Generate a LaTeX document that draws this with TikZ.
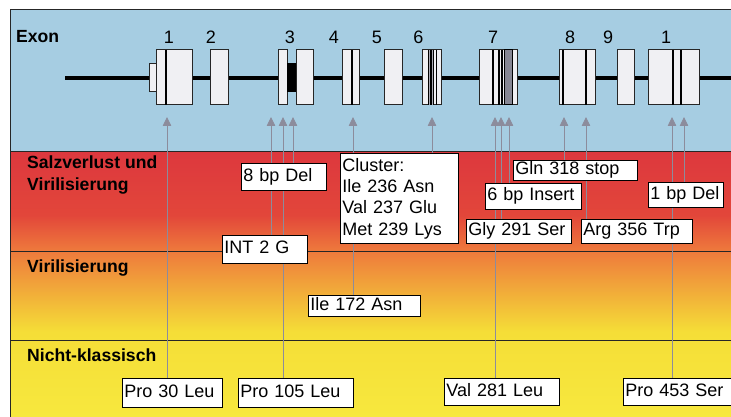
\documentclass[tikz,border=0pt]{standalone}
\usepackage{fontspec}
\setmainfont{Liberation Sans}
\usetikzlibrary{arrows.meta}
\definecolor{bgblue}{RGB}{166,205,226}
\definecolor{exfill}{RGB}{240,240,243}
\definecolor{exgrey}{RGB}{135,135,148}
\definecolor{arrgrey}{RGB}{140,140,156}
\definecolor{rA}{RGB}{221,56,62}
\definecolor{rB}{RGB}{226,70,58}
\definecolor{rC}{RGB}{238,122,60}
\definecolor{yA}{RGB}{245,222,55}
\definecolor{yB}{RGB}{247,232,62}
\pgfdeclarelayer{bg}
\pgfdeclarelayer{lines}
\pgfsetlayers{bg,lines,main}
\tikzset{
  frameline/.style={draw=black!85, line width=1pt},
  exbox/.style={draw=black!85, line width=1pt, fill=exfill},
  exline/.style={draw=black, line width=1.3pt},
  exnum/.style={font=\fontsize{18}{21}\selectfont, inner sep=0pt},
  cat/.style={font=\fontsize{17.6}{22}\selectfont\bfseries, anchor=base west, inner sep=0pt, align=left},
  lbl/.style={draw=black, line width=0.9pt, fill=white, anchor=north west,
    inner xsep=2pt, inner ysep=0pt, text height=13pt, text depth=4pt,
    align=left, font=\fontsize{18}{21}\selectfont},
  conn/.style={draw=arrgrey, line width=0.8pt, -{Triangle[length=9pt,width=8.5pt]}},
}
\begin{document}
\begin{tikzpicture}[x=1pt,y=-1pt]
\useasboundingbox (0,0) rectangle (731,417);
\clip (0,0) rectangle (731,417);
\begin{pgfonlayer}{bg}
\fill[white] (0,0) rectangle (731,417);
\fill[bgblue] (10,10) rectangle (731,152);
\shade[top color=rA, bottom color=rB] (10,152) rectangle (731,215);
\shade[top color=rB, bottom color=rC] (10,215) rectangle (731,251);
\shade[top color=rC, bottom color=yA] (10,251) rectangle (731,332);
\shade[top color=yA, bottom color=yB] (10,332) rectangle (731,417);
\draw[frameline] (10,417) -- (10,10) -- (731,10);
\draw[frameline] (10,152) -- (731,152);
\draw[frameline] (10,251) -- (731,251);
\draw[frameline] (10,340) -- (731,340);
% gene line
\draw[line width=3.5pt] (65,78) -- (731,78);
% exon 1
\draw[exbox] (149,64) rectangle (156,92);
\draw[exbox] (156,50) rectangle (192,105);
\draw[exline] (166,50) -- (166,105);
% exon 2
\draw[exbox] (210,50) rectangle (228,105);
% exon 3
\draw[exbox] (278,50) rectangle (287,105);
\fill[black] (287,63) rectangle (296,92);
\draw[exbox] (296,50) rectangle (313,105);
% exon 4
\draw[exbox] (342,50) rectangle (359,105);
\draw[exline] (352,50) -- (352,105);
% exon 5
\draw[exbox] (384,50) rectangle (402,105);
% exon 6
\draw[exbox] (422,50) rectangle (441,105);
\fill[exgrey!70] (429,50) rectangle (434,105);
\draw[exline, line width=1pt] (428,50) -- (428,105);
\draw[exline, line width=2.5pt] (431,50) -- (431,105);
\draw[exline, line width=1.2pt] (433.5,50) -- (433.5,105);
\draw[exline, line width=1pt] (436,50) -- (436,105);
% exon 7
\draw[exbox] (479,50) rectangle (517,105);
\draw[exline] (493,50) -- (493,105);
\draw[exline] (499,50) -- (499,105);
\draw[exline] (502,50) -- (502,105);
\filldraw[fill=exgrey, draw=black, line width=1pt] (504,50) rectangle (512,105);
% exon 8
\draw[exbox] (559,50) rectangle (595,105);
\draw[exline] (563,50) -- (563,105);
\draw[exline] (586,50) -- (586,105);
% exon 9
\draw[exbox] (617,50) rectangle (634,105);
% exon 10
\draw[exbox] (648,50) rectangle (699,105);
\draw[exline] (673,50) -- (673,105);
\draw[exline] (681,50) -- (681,105);
\end{pgfonlayer}

% exon numbers
\node[exnum] (n1) at (169,37.5) {1};
\node[exnum] (n2) at (211,37.5) {2};
\node[exnum] (n3) at (290,37.5) {3};
\node[exnum] (n4) at (334,37.5) {4};
\node[exnum] (n5) at (377,37.5) {5};
\node[exnum] (n6) at (418.5,37.5) {6};
\node[exnum] (n7) at (493,37.5) {7};
\node[exnum] (n8) at (570,37.5) {8};
\node[exnum] (n9) at (608,37.5) {9};
\node[exnum] (n10) at (666,37.5) {1};

% category labels
\node[cat] (exon) at (16,43) {Exon};
\node[cat] (salz) at (27,190) {Salzverlust und\\Virilisierung};
\node[cat] (viri) at (27,272) {Virilisierung};
\node[cat] (nicht) at (27,361) {Nicht-klassisch};

% arrow tips
\coordinate (t1) at (167,117);
\coordinate (t2) at (271,117);
\coordinate (t3) at (283,117);
\coordinate (t4) at (293,117);
\coordinate (t5) at (353,117);
\coordinate (t6) at (432,117);
\coordinate (t7) at (495,117);
\coordinate (t8) at (501,117);
\coordinate (t9) at (509,117);
\coordinate (t10) at (564,117);
\coordinate (t11) at (586,117);
\coordinate (t12) at (672,117);
\coordinate (t13) at (684,117);

% label boxes
\node[lbl, text width=81pt, minimum height=27pt] (del8) at (241,163) {8 bp Del};
\node[lbl, text width=81pt, minimum height=28pt] (int2) at (222,235) {INT 2 G};
\node[lbl, text width=114pt, minimum height=90pt, text height=, text depth=,
  font=\fontsize{18}{21.4}\selectfont] (clus) at (340,153)
  {Cluster:\\Ile 236 Asn\\Val 237 Glu\\Met 239 Lys};
\node[lbl, text width=108pt, minimum height=21pt] (ile) at (308,295) {Ile 172 Asn};
\node[lbl, text width=120pt, minimum height=20pt] (gln) at (513,160) {Gln 318 stop};
\node[lbl, text width=92pt, minimum height=26pt] (ins6) at (485,183) {6 bp Insert};
\node[lbl, text width=71pt, minimum height=25pt] (del1) at (648,182) {1 bp Del};
\node[lbl, text width=101pt, minimum height=24pt] (gly) at (466,219) {Gly 291 Ser};
\node[lbl, text width=107pt, minimum height=24pt] (arg) at (581,219) {Arg 356 Trp};
\node[lbl, text width=96pt, minimum height=29pt] (pro30) at (122,378) {Pro 30 Leu};
\node[lbl, text width=111pt, minimum height=29pt] (pro105) at (238,378) {Pro 105 Leu};
\node[lbl, text width=111pt, minimum height=27pt] (val) at (444,378) {Val 281 Leu};
\node[lbl, text width=115pt, minimum height=27pt] (pro453) at (623,378) {Pro 453 Ser};

% connectors
\begin{pgfonlayer}{lines}
\draw[conn] (t1 |- pro30.north) -- (t1);
\draw[conn] (t2 |- int2.north) -- (t2);
\draw[conn] (t3 |- pro105.north) -- (t3);
\draw[conn] (t4 |- del8.north) -- (t4);
\draw[conn] (t5 |- ile.north) -- (t5);
\draw[conn] (t6 |- clus.north) -- (t6);
\draw[conn] (t7 |- val.north) -- (t7);
\draw[conn] (t8 |- gly.north) -- (t8);
\draw[conn] (t9 |- ins6.north) -- (t9);
\draw[conn] (t10 |- gln.north) -- (t10);
\draw[conn] (t11 |- arg.north) -- (t11);
\draw[conn] (t12 |- pro453.north) -- (t12);
\draw[conn] (t13 |- del1.north) -- (t13);
\end{pgfonlayer}
\end{tikzpicture}
\end{document}
